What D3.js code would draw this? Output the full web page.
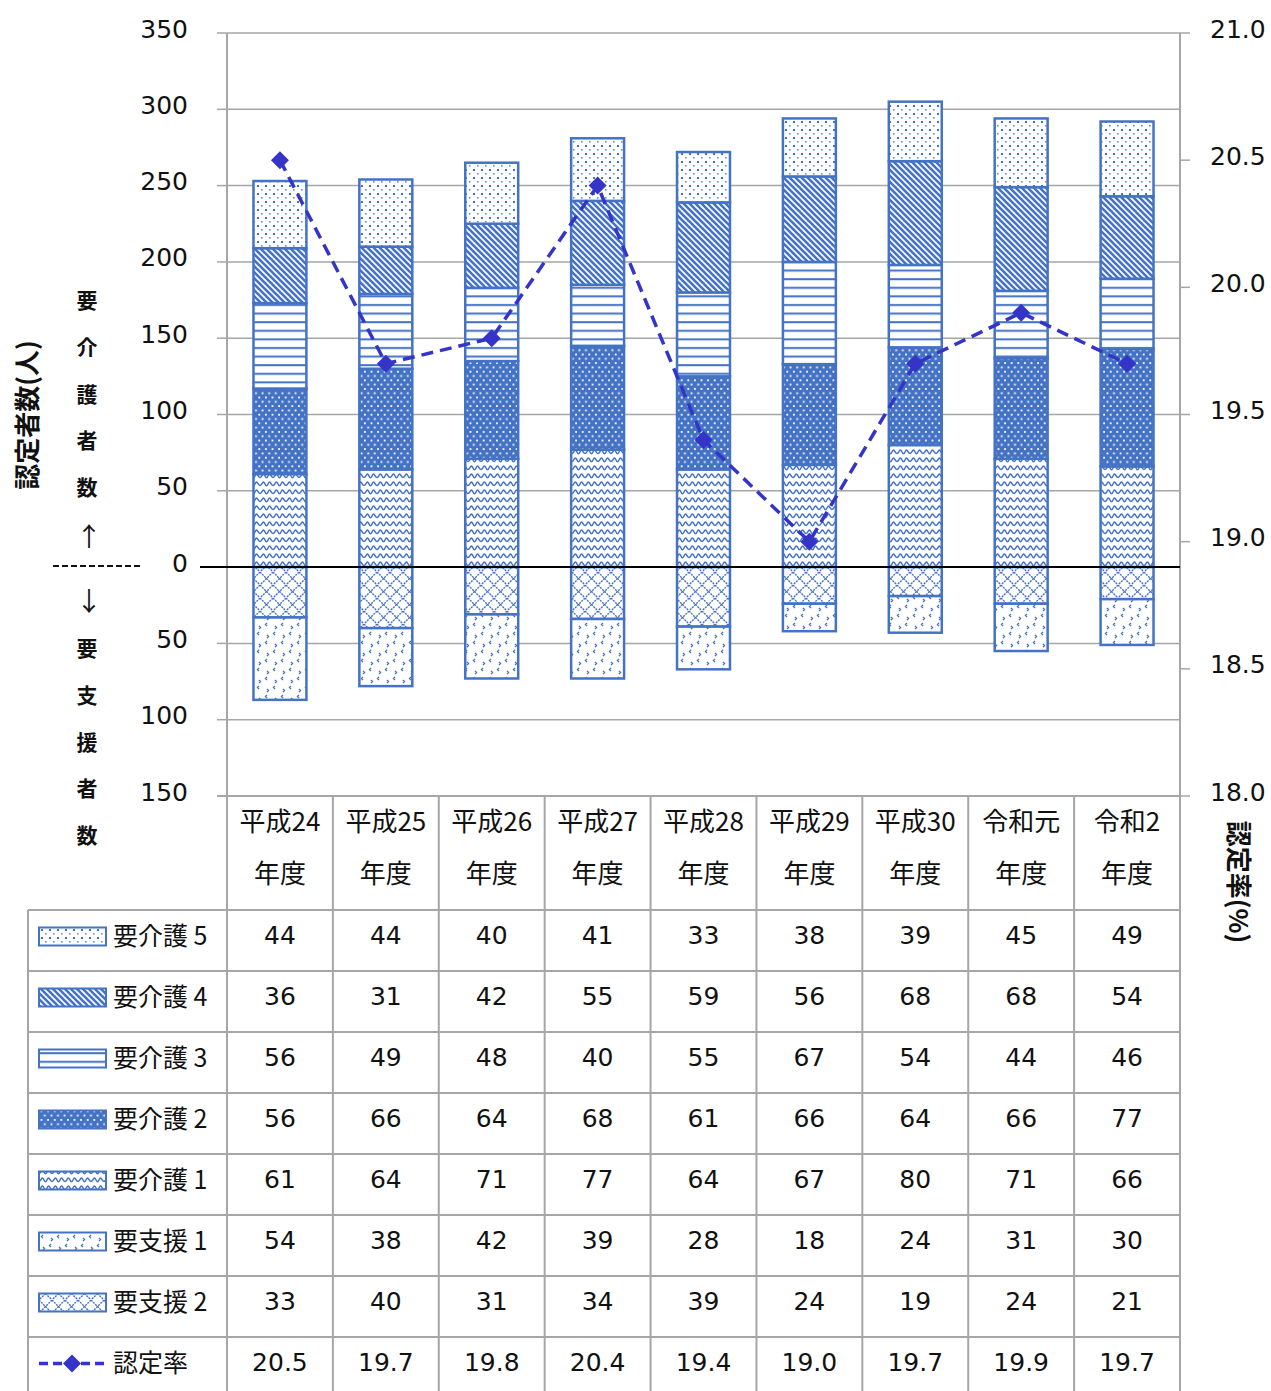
<!DOCTYPE html>
<html>
<head>
<meta charset="utf-8">
<script src="https://cdn.jsdelivr.net/npm/d3@7/dist/d3.min.js"></script>
<style>
  html, body { margin: 0; padding: 0; background: #fff; }
  svg { display: block; }
</style>
</head>
<body>
<svg id="chart" width="1271" height="1391"></svg>
<script>
// ---- data ----
const categories = ["平成24", "平成25", "平成26", "平成27", "平成28", "平成29", "平成30", "令和元", "令和2"];
const kaigo5 = [44, 44, 40, 41, 33, 38, 39, 45, 49];
const kaigo4 = [36, 31, 42, 55, 59, 56, 68, 68, 54];
const kaigo3 = [56, 49, 48, 40, 55, 67, 54, 44, 46];
const kaigo2 = [56, 66, 64, 68, 61, 66, 64, 66, 77];
const kaigo1 = [61, 64, 71, 77, 64, 67, 80, 71, 66];
const shien1 = [54, 38, 42, 39, 28, 18, 24, 31, 30];
const shien2 = [33, 40, 31, 34, 39, 24, 19, 24, 21];
const rate = [20.5, 19.7, 19.8, 20.4, 19.4, 19.0, 19.7, 19.9, 19.7];

const leftTicks = [-150, -100, -50, 0, 50, 100, 150, 200, 250, 300, 350];
const rightTicks = [18.0, 18.5, 19.0, 19.5, 20.0, 20.5, 21.0];

// series: name, values, pattern id, sign
const series = [
  { key: "要介護1", label: "要介護 1", values: kaigo1, pat: "p-k1", sign: 1 },
  { key: "要介護2", label: "要介護 2", values: kaigo2, pat: "p-k2", sign: 1 },
  { key: "要介護3", label: "要介護 3", values: kaigo3, pat: "p-k3", sign: 1 },
  { key: "要介護4", label: "要介護 4", values: kaigo4, pat: "p-k4", sign: 1 },
  { key: "要介護5", label: "要介護 5", values: kaigo5, pat: "p-k5", sign: 1 },
  { key: "要支援2", label: "要支援 2", values: shien2, pat: "p-s2", sign: -1 },
  { key: "要支援1", label: "要支援 1", values: shien1, pat: "p-s1", sign: -1 }
];
// order of rows in the data table
const tableOrder = ["要介護5", "要介護4", "要介護3", "要介護2", "要介護1", "要支援1", "要支援2"];

// ---- layout ----
const BLUE = "#4472C4";
const LINE = "#3434C8";
const GRID = "#A6A6A6";
const NUM_FONT = "'DejaVu Sans', Verdana, sans-serif";
const JP_FONT = "'Noto Sans CJK JP', 'Noto Sans', sans-serif";

const plotLeft = 227, plotRight = 1180, plotTop = 33, plotBottom = 796;
const tableLeft = 28;
const headerBottom = 910;
const rowH = 61;

const svg = d3.select("#chart");

const x = d3.scaleBand().domain(categories).range([plotLeft, plotRight]).paddingInner(0).paddingOuter(0);
const y = d3.scaleLinear().domain([-150, 350]).range([plotBottom, plotTop]);
const y2 = d3.scaleLinear().domain([18, 21]).range([plotBottom, plotTop]);
const barW = x.bandwidth() * 0.5;

// ---- fill patterns ----
const defs = svg.append("defs");

function pattern(id, w, h) {
  const p = defs.append("pattern").attr("id", id)
    .attr("patternUnits", "userSpaceOnUse").attr("width", w).attr("height", h);
  return p;
}
// 要介護5: sparse dots
{
  const p = pattern("p-k5", 8, 8);
  p.append("rect").attr("width", 8).attr("height", 8).attr("fill", "#fff");
  p.append("rect").attr("x", 1).attr("y", 1).attr("width", 2).attr("height", 2).attr("fill", BLUE);
  p.append("rect").attr("x", 5).attr("y", 5).attr("width", 1.6).attr("height", 1.6).attr("fill", BLUE).attr("opacity", 0.8);
}
// 要介護4: wide diagonal stripes
{
  const s = 6;
  const p = pattern("p-k4", s, s);
  p.append("rect").attr("width", s).attr("height", s).attr("fill", "#fff");
  p.append("path").attr("d", `M-1,-1L${s + 1},${s + 1}M${-s / 2 - 1},${s / 2 - 1}L${s / 2 + 1},${s * 1.5 + 1}M${s / 2 - 1},${-s / 2 - 1}L${s * 1.5 + 1},${s / 2 + 1}`)
    .attr("stroke", BLUE).attr("stroke-width", 2.6);
}
// 要介護3: horizontal lines
{
  const p = pattern("p-k3", 8, 8.6);
  p.append("rect").attr("width", 8).attr("height", 8.6).attr("fill", "#fff");
  p.append("rect").attr("x", 0).attr("y", 3).attr("width", 8).attr("height", 2).attr("fill", BLUE);
}
// 要介護2: white dots on blue
{
  const p = pattern("p-k2", 6.6, 8.6);
  p.append("rect").attr("width", 6.6).attr("height", 8.6).attr("fill", BLUE);
  p.append("rect").attr("x", 1).attr("y", 1).attr("width", 1.8).attr("height", 1.8).attr("fill", "#fff");
  p.append("rect").attr("x", 4.3).attr("y", 5.3).attr("width", 1.8).attr("height", 1.8).attr("fill", "#fff");
}
// 要介護1: waves
{
  const p = pattern("p-k1", 13, 8);
  p.append("rect").attr("width", 13).attr("height", 8).attr("fill", "#fff");
  p.append("path").attr("d", "M-0.5,5.5 C1.8,5.8 2.2,2 3.25,2 C4.8,2 5.2,5.8 6.5,5.8 C7.8,5.8 8.2,2 9.75,2 C10.8,2 11.2,5.8 13.5,5.5")
    .attr("fill", "none").attr("stroke", BLUE).attr("stroke-width", 1.5);
}
// 要支援2: diagonal crosshatch
{
  const s = 13;
  const p = pattern("p-s2", s, s);
  p.append("rect").attr("width", s).attr("height", s).attr("fill", "#fff");
  p.append("path").attr("d", `M0,0L${s},${s}M${s},0L0,${s}`)
    .attr("stroke", BLUE).attr("stroke-width", 1.4).attr("stroke-dasharray", "2,1");
}
// 要支援1: small scattered chevrons
{
  const p = pattern("p-s1", 16, 18);
  p.append("rect").attr("width", 16).attr("height", 18).attr("fill", "#fff");
  const marks = "M3,2 L1.5,3.5 L3,5 M11,5 L12.5,6.5 L11,8 M11,11 L9.5,12.5 L11,14 M3,14 L4.5,15.5 L3,17";
  p.append("path").attr("d", marks).attr("fill", "none").attr("stroke", BLUE).attr("stroke-width", 1.4);
}

// ---- gridlines ----
svg.append("g").selectAll("line").data(leftTicks.filter(t => t !== 0 && t !== -150))
  .join("line")
  .attr("x1", plotLeft).attr("x2", plotRight)
  .attr("y1", d => y(d)).attr("y2", d => y(d))
  .attr("stroke", GRID).attr("stroke-width", 1.5);

// left axis
const leftAxis = svg.append("g");
leftAxis.append("line").attr("x1", plotLeft).attr("x2", plotLeft)
  .attr("y1", plotTop).attr("y2", 1391).attr("stroke", GRID).attr("stroke-width", 2);
leftAxis.selectAll("line.tick").data(leftTicks).join("line").attr("class", "tick")
  .attr("x1", plotLeft - 10).attr("x2", plotLeft)
  .attr("y1", d => y(d)).attr("y2", d => y(d))
  .attr("stroke", GRID).attr("stroke-width", 1.5);
leftAxis.selectAll("text").data(leftTicks).join("text")
  .attr("x", 188).attr("y", d => y(d) - 4)
  .attr("text-anchor", "end").attr("dominant-baseline", "central")
  .attr("font-family", NUM_FONT).attr("font-size", 25).attr("fill", "#111")
  .text(d => Math.abs(d));

// right axis
const rightAxis = svg.append("g");
rightAxis.append("line").attr("x1", plotRight).attr("x2", plotRight)
  .attr("y1", plotTop).attr("y2", 1391).attr("stroke", GRID).attr("stroke-width", 2);
rightAxis.selectAll("line.tick").data(rightTicks).join("line").attr("class", "tick")
  .attr("x1", plotRight).attr("x2", plotRight + 10)
  .attr("y1", d => y2(d)).attr("y2", d => y2(d))
  .attr("stroke", GRID).attr("stroke-width", 1.5);
rightAxis.selectAll("text").data(rightTicks).join("text")
  .attr("x", 1210).attr("y", d => y2(d) - 4)
  .attr("text-anchor", "start").attr("dominant-baseline", "central")
  .attr("font-family", NUM_FONT).attr("font-size", 25).attr("fill", "#111")
  .text(d => d3.format(".1f")(d));

// ---- stacked bars ----
const rows = categories.map((c, i) => {
  const r = { cat: c };
  series.forEach(s => { r[s.key] = s.sign * s.values[i]; });
  return r;
});
const stack = d3.stack().keys(series.map(s => s.key)).offset(d3.stackOffsetDiverging);
const stacked = stack(rows);

const barsG = svg.append("g");
stacked.forEach((layer, li) => {
  const s = series[li];
  barsG.append("g").selectAll("rect").data(layer).join("rect")
    .attr("x", d => x(d.data.cat) + (x.bandwidth() - barW) / 2)
    .attr("width", barW)
    .attr("y", d => y(Math.max(d[0], d[1])))
    .attr("height", d => Math.abs(y(d[0]) - y(d[1])))
    .attr("fill", `url(#${s.pat})`)
    .attr("stroke", BLUE).attr("stroke-width", 2.5);
});

// zero line
svg.append("line").attr("x1", 200).attr("x2", plotRight)
  .attr("y1", y(0)).attr("y2", y(0))
  .attr("stroke", "#000").attr("stroke-width", 2);

// ---- rate line ----
const diamond = "M0,-9L9,0L0,9L-9,0Z";
const lineGen = d3.line().x((d, i) => x(categories[i]) + x.bandwidth() / 2).y(d => y2(d));
svg.append("path").datum(rate).attr("d", lineGen)
  .attr("fill", "none").attr("stroke", LINE).attr("stroke-width", 3.5)
  .attr("stroke-dasharray", "12,7");
svg.append("g").selectAll("path").data(rate).join("path")
  .attr("transform", (d, i) => `translate(${x(categories[i]) + x.bandwidth() / 2},${y2(d)})`)
  .attr("d", diamond).attr("fill", LINE);

// ---- axis titles ----
svg.append("text")
  .attr("transform", "translate(25,415) rotate(-90)")
  .attr("text-anchor", "middle").attr("dominant-baseline", "central")
  .attr("font-family", JP_FONT).attr("font-weight", "bold").attr("font-size", 26).attr("fill", "#111")
  .text("認定者数(人)");
svg.append("text")
  .attr("transform", "translate(1240,882) rotate(90)")
  .attr("text-anchor", "middle").attr("dominant-baseline", "central")
  .attr("font-family", JP_FONT).attr("font-weight", "bold").attr("font-size", 26).attr("fill", "#111")
  .text("認定率(%)");

// vertical side labels
const sideUp = ["要", "介", "護", "者", "数"];
const sideDown = ["要", "支", "援", "者", "数"];
const sideG = svg.append("g").attr("font-family", JP_FONT).attr("font-weight", "bold")
  .attr("font-size", 21).attr("fill", "#111").attr("text-anchor", "middle");
sideG.selectAll("text.up").data(sideUp).join("text").attr("class", "up")
  .attr("x", 87).attr("y", (d, i) => 299 + i * 46.8).attr("dominant-baseline", "central").text(d => d);
sideG.selectAll("text.down").data(sideDown).join("text").attr("class", "down")
  .attr("x", 87).attr("y", (d, i) => 647 + i * 46.8).attr("dominant-baseline", "central").text(d => d);
sideG.append("text").attr("x", 89).attr("y", 534).attr("dominant-baseline", "central")
  .attr("font-weight", "normal").attr("font-size", 26).text("↑");
sideG.append("text").attr("x", 89).attr("y", 599).attr("dominant-baseline", "central")
  .attr("font-weight", "normal").attr("font-size", 26).text("↓");
svg.append("line").attr("x1", 53).attr("x2", 143).attr("y1", 566).attr("y2", 566)
  .attr("stroke", "#111").attr("stroke-width", 2).attr("stroke-dasharray", "6,3");

// ---- data table ----
const table = svg.append("g");
// header horizontal line
table.append("line").attr("x1", plotLeft - 10).attr("x2", plotRight)
  .attr("y1", plotBottom).attr("y2", plotBottom).attr("stroke", GRID).attr("stroke-width", 2);
// column separators
table.selectAll("line.col").data(categories.slice(1)).join("line").attr("class", "col")
  .attr("x1", d => x(d)).attr("x2", d => x(d))
  .attr("y1", plotBottom).attr("y2", 1391).attr("stroke", GRID).attr("stroke-width", 2);
table.append("line").attr("x1", tableLeft).attr("x2", tableLeft)
  .attr("y1", headerBottom).attr("y2", 1391).attr("stroke", GRID).attr("stroke-width", 2);
// row lines
const rowLines = d3.range(0, 8).map(i => headerBottom + i * rowH);
table.selectAll("line.row").data(rowLines).join("line").attr("class", "row")
  .attr("x1", tableLeft).attr("x2", plotRight)
  .attr("y1", d => d).attr("y2", d => d).attr("stroke", GRID).attr("stroke-width", 2);

// category header
const hdr = table.append("g").attr("font-family", JP_FONT).attr("font-size", 26)
  .attr("fill", "#111").attr("text-anchor", "middle");
hdr.selectAll("text.c1").data(categories).join("text").attr("class", "c1")
  .attr("x", d => x(d) + x.bandwidth() / 2).attr("y", 819).attr("dominant-baseline", "central").text(d => d);
hdr.selectAll("text.c2").data(categories).join("text").attr("class", "c2")
  .attr("x", d => x(d) + x.bandwidth() / 2).attr("y", 871).attr("dominant-baseline", "central").text("年度");

// table rows
const tableRows = tableOrder.map(k => series.find(s => s.key === k));
tableRows.forEach((s, r) => {
  const cy = headerBottom + r * rowH + rowH / 2 - 4;
  table.append("rect").attr("x", 39).attr("y", cy - 9).attr("width", 67).attr("height", 18)
    .attr("fill", `url(#${s.pat})`).attr("stroke", BLUE).attr("stroke-width", 2);
  table.append("text").attr("x", 113).attr("y", cy - 3).attr("dominant-baseline", "central")
    .attr("font-family", JP_FONT).attr("font-size", 25).attr("fill", "#111").text(s.label);
  table.append("g").selectAll("text").data(s.values).join("text")
    .attr("x", (d, i) => x(categories[i]) + x.bandwidth() / 2).attr("y", cy - 1)
    .attr("text-anchor", "middle").attr("dominant-baseline", "central")
    .attr("font-family", NUM_FONT).attr("font-size", 25).attr("fill", "#111").text(d => d);
});
// rate row
{
  const cy = headerBottom + 7 * rowH + rowH / 2 - 4;
  table.append("line").attr("x1", 39).attr("x2", 106).attr("y1", cy).attr("y2", cy)
    .attr("stroke", LINE).attr("stroke-width", 3.5).attr("stroke-dasharray", "9,5");
  table.append("path").attr("transform", `translate(72,${cy})`).attr("d", diamond).attr("fill", LINE);
  table.append("text").attr("x", 113).attr("y", cy - 3).attr("dominant-baseline", "central")
    .attr("font-family", JP_FONT).attr("font-size", 25).attr("fill", "#111").text("認定率");
  table.append("g").selectAll("text").data(rate).join("text")
    .attr("x", (d, i) => x(categories[i]) + x.bandwidth() / 2).attr("y", cy - 1)
    .attr("text-anchor", "middle").attr("dominant-baseline", "central")
    .attr("font-family", NUM_FONT).attr("font-size", 25).attr("fill", "#111").text(d => d3.format(".1f")(d));
}
</script>
</body>
</html>
